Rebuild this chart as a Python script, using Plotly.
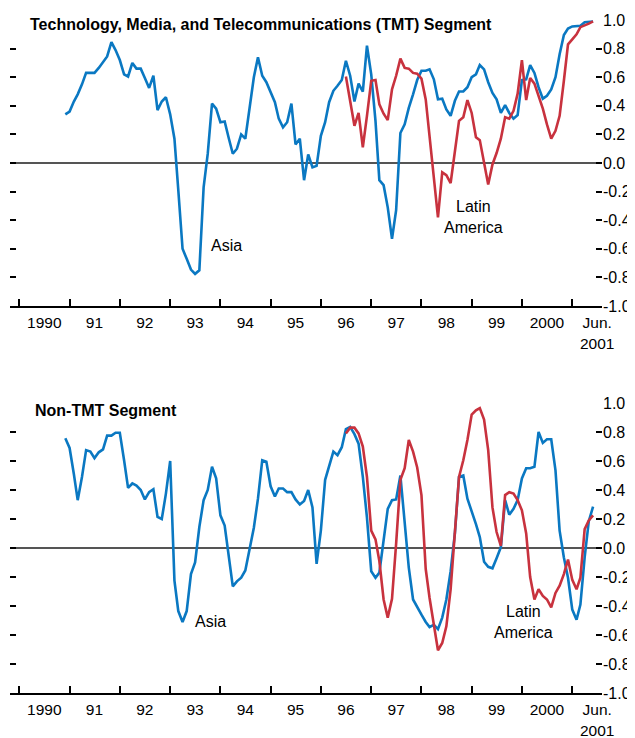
import pandas as pd
import plotly.graph_objects as go

# ---------------- data (monthly correlations) ----------------
asia_months = pd.date_range("1990-12-01", "2001-06-01", freq="MS")
latam_months = pd.date_range("1996-07-01", "2001-06-01", freq="MS")

tmt_asia = [
    0.34,
    0.36, 0.43, 0.48, 0.55, 0.63, 0.63, 0.63, 0.665, 0.71, 0.745, 0.845, 0.79,
    0.72, 0.62, 0.605, 0.70, 0.66, 0.66, 0.595, 0.525, 0.61, 0.37, 0.43, 0.46,
    0.34, 0.17, -0.19, -0.60, -0.67, -0.745, -0.775, -0.75, -0.17, 0.065, 0.415, 0.38,
    0.285, 0.29, 0.18, 0.065, 0.10, 0.20, 0.17, 0.40, 0.60, 0.74, 0.61, 0.565,
    0.495, 0.425, 0.31, 0.25, 0.285, 0.415, 0.13, 0.17, -0.12, 0.06, -0.03, -0.02,
    0.19, 0.285, 0.425, 0.505, 0.54, 0.58, 0.715, 0.61, 0.43, 0.555, 0.50, 0.82,
    0.62, 0.295, -0.12, -0.155, -0.31, -0.53, -0.33, 0.21, 0.27, 0.385, 0.48, 0.58,
    0.645, 0.645, 0.655, 0.585, 0.445, 0.45, 0.375, 0.33, 0.435, 0.50, 0.50, 0.53,
    0.60, 0.62, 0.685, 0.655, 0.565, 0.49, 0.445, 0.35, 0.405, 0.35, 0.31, 0.335,
    0.58, 0.585, 0.685, 0.63, 0.53, 0.45, 0.47, 0.515, 0.60, 0.76, 0.895, 0.94,
    0.955, 0.96, 0.96, 0.985, 0.985, 0.99,
]
tmt_latam = [
    0.605, 0.445, 0.26, 0.35, 0.11, 0.33,
    0.575, 0.58, 0.41, 0.345, 0.30, 0.515, 0.61, 0.73, 0.665, 0.66, 0.63, 0.625,
    0.59, 0.445, 0.19, -0.11, -0.38, -0.065, -0.085, -0.14, 0.065, 0.295, 0.32, 0.44,
    0.35, 0.18, 0.16, 0.015, -0.15, -0.01, 0.07, 0.17, 0.32, 0.31, 0.365, 0.485,
    0.72, 0.44, 0.595, 0.555, 0.47, 0.38, 0.27, 0.17, 0.225, 0.33, 0.575, 0.83,
    0.865, 0.90, 0.95, 0.96, 0.975, 0.99,
]
nontmt_asia = [
    0.757,
    0.69, 0.51, 0.33, 0.49, 0.675, 0.665, 0.62, 0.66, 0.68, 0.775, 0.775, 0.795,
    0.795, 0.605, 0.415, 0.445, 0.43, 0.40, 0.335, 0.385, 0.405, 0.215, 0.20, 0.375,
    0.60, -0.225, -0.435, -0.51, -0.435, -0.18, -0.10, 0.145, 0.33, 0.40, 0.56, 0.48,
    0.225, 0.155, -0.055, -0.265, -0.23, -0.205, -0.155, 0.005, 0.14, 0.34, 0.605, 0.595,
    0.425, 0.355, 0.41, 0.41, 0.385, 0.385, 0.335, 0.30, 0.325, 0.40, 0.28, -0.11,
    0.12, 0.47, 0.57, 0.665, 0.64, 0.695, 0.82, 0.835, 0.785, 0.72, 0.49, 0.21,
    -0.16, -0.205, -0.17, 0.075, 0.27, 0.33, 0.335, 0.50, 0.165, -0.135, -0.355, -0.41,
    -0.46, -0.51, -0.545, -0.53, -0.56, -0.48, -0.355, -0.16, 0.10, 0.49, 0.50, 0.34,
    0.26, 0.165, 0.075, -0.095, -0.13, -0.14, -0.07, 0.005, 0.33, 0.23, 0.27, 0.33,
    0.48, 0.55, 0.55, 0.56, 0.80, 0.725, 0.75, 0.75, 0.535, 0.12, -0.065, -0.205,
    -0.425, -0.495, -0.39, -0.065, 0.185, 0.285,
]
nontmt_latam = [
    0.79, 0.83, 0.83, 0.79, 0.70, 0.49,
    0.12, 0.06, -0.09, -0.355, -0.48, -0.35, 0.03, 0.47, 0.55, 0.745, 0.665, 0.555,
    0.365, -0.145, -0.345, -0.52, -0.705, -0.655, -0.54, -0.285, 0.09, 0.49, 0.605, 0.745,
    0.92, 0.95, 0.965, 0.885, 0.675, 0.28, 0.11, 0.015, 0.365, 0.385, 0.375, 0.33,
    0.26, 0.10, -0.20, -0.355, -0.285, -0.33, -0.355, -0.41, -0.31, -0.26, -0.18, -0.08,
    -0.22, -0.285, -0.205, 0.13, 0.19, 0.225,
]

year_label_pos = [f"{y}-07-01" for y in range(1990, 2002)]
year_labels = ["1990", "91", "92", "93", "94", "95", "96", "97", "98", "99", "2000", "Jun.<br>2001"]
year_ticks = [f"{y}-01-01" for y in range(1990, 2002)]
y_tickvals = [-1.0, -0.8, -0.6, -0.4, -0.2, 0.0, 0.2, 0.4, 0.6, 0.8, 1.0]
y_ticktext = ["-1.0", "-0.8", "-0.6", "-0.4", "-0.2", "0.0", "0.2", "0.4", "0.6", "0.8", "1.0"]

panel_titles = ["Technology, Media, and Telecommunications (TMT) Segment", "Non-TMT Segment"]

# ---------------- styling ----------------
BLUE = "#0a78c2"
RED = "#c8323e"
FONT = "Liberation Sans, Arial, sans-serif"
LW = 2.6

fig = go.Figure()
series = [
    ("x", "y", asia_months, tmt_asia, BLUE),
    ("x", "y", latam_months, tmt_latam, RED),
    ("x2", "y2", asia_months, nontmt_asia, BLUE),
    ("x2", "y2", latam_months, nontmt_latam, RED),
]
for xa, ya, xs, ys, col in series:
    fig.add_trace(go.Scatter(x=xs, y=ys, xaxis=xa, yaxis=ya, mode="lines",
                             line=dict(color=col, width=LW), showlegend=False,
                             hoverinfo="skip"))

xcommon = dict(
    type="date", range=["1989-10-25", "2001-08-05"], automargin=False,
    tickmode="array", tickvals=year_label_pos, ticktext=year_labels,
    ticks="", showgrid=False, zeroline=False,
    showline=True, linecolor="black", linewidth=1.5,
    ticklabelstandoff=2,
    tickfont=dict(family=FONT, size=15.5, color="black"),
    minor=dict(tickmode="array", tickvals=year_ticks, ticks="inside",
               ticklen=7, tickwidth=1.5, tickcolor="black", showgrid=False),
)
ycommon = dict(
    range=[-1.0, 1.0], side="right", automargin=False,
    tickmode="array", tickvals=y_tickvals, ticktext=y_ticktext,
    ticks="inside", ticklen=6, tickwidth=1.5, tickcolor="black",
    mirror="ticks", showline=False, showgrid=False,
    zeroline=True, zerolinecolor="#555555", zerolinewidth=1.5,
    tickfont=dict(family=FONT, size=16, color="black"),
)

# the page body adds an 8px offset, so margins are shifted to compensate
fig.update_layout(
    width=635, height=738,
    margin=dict(l=2, r=41, t=12, b=53),
    paper_bgcolor="white", plot_bgcolor="white",
    xaxis=dict(xcommon, domain=[0, 1], anchor="y"),
    yaxis=dict(ycommon, domain=[0.575, 1.0], anchor="x"),
    xaxis2=dict(xcommon, domain=[0, 1], anchor="y2"),
    yaxis2=dict(ycommon, domain=[0.0, 0.4309], anchor="x2"),
    showlegend=False,
)

ann = [
    dict(text=panel_titles[0], xref="paper", yref="paper", x=0.0304, y=0.9926,
         xanchor="left", yanchor="middle", showarrow=False,
         font=dict(family=FONT, size=16, color="black", weight="bold")),
    dict(text=panel_titles[1], xref="paper", yref="paper", x=0.0389, y=0.4198,
         xanchor="left", yanchor="middle", showarrow=False,
         font=dict(family=FONT, size=16, color="black", weight="bold")),
    dict(text="Asia", xref="x", yref="y", x="1994-02-11", y=-0.58,
         showarrow=False, font=dict(family=FONT, size=16, color="black")),
    dict(text="Latin<br>America", xref="x", yref="y", x="1999-01-11", y=-0.378,
         showarrow=False, font=dict(family=FONT, size=16, color="black")),
    dict(text="Asia", xref="x2", yref="y2", x="1993-10-23", y=-0.505,
         showarrow=False, font=dict(family=FONT, size=16, color="black")),
    dict(text="Latin<br>America", xref="x2", yref="y2", x="2000-01-16", y=-0.51,
         showarrow=False, font=dict(family=FONT, size=16, color="black")),
]
fig.update_layout(annotations=ann)

fig.write_html("out.html")
